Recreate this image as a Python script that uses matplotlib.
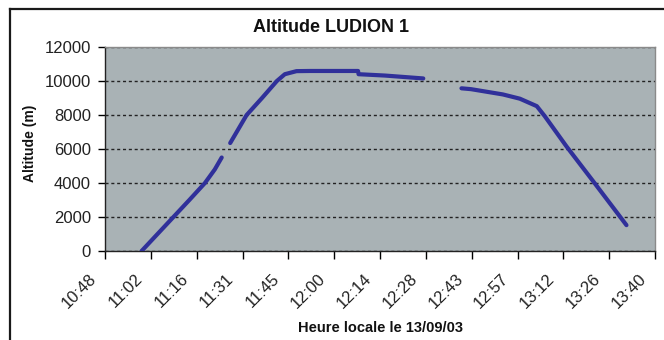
import matplotlib
matplotlib.use("Agg")
import matplotlib.pyplot as plt
import matplotlib.transforms as mtransforms
from matplotlib.lines import Line2D
import numpy as np

plt.rcParams["font.family"] = ["Liberation Sans", "DejaVu Sans"]

# flight log of the balloon (local time, altitude in m); None marks a data gap
heure = [
    "10:59:30", "11:04:30", "11:09:30", "11:14:30", "11:19:24", "11:22:30",
    "11:24:40",
    None,
    "11:27:20", "11:32:30", "11:37:20", "11:42:00", "11:44:30", "11:48:10",
    "11:52:25", "12:07:30", "12:07:40", "12:16:00", "12:28:00",
    None,
    "12:40:00", "12:43:00", "12:53:00", "12:58:20", "13:03:40", "13:06:10",
    "13:13:00", "13:21:50", "13:31:50",
]
altitude = [
    0, 1000, 2000, 3000, 4000, 4800,
    5500,
    None,
    6350, 8000, 9000, 10000, 10400, 10580,
    10590, 10590, 10400, 10320, 10150,
    None,
    9570, 9520, 9210, 8960, 8520, 7930,
    6150, 3990, 1520,
]

tick_labels = ["10:48", "11:02", "11:16", "11:31", "11:45", "12:00", "12:14",
               "12:28", "12:43", "12:57", "13:12", "13:26", "13:40"]
# Excel style axis: ticks every 0.01 day starting at 0.45 day
tick_days = [0.45 + 0.01 * i for i in range(len(tick_labels))]


def to_minutes(s):
    if s is None:
        return np.nan
    h, m, sec = (int(v) for v in s.split(":"))
    return h * 60 + m + sec / 60.0


x = np.array([to_minutes(s) for s in heure])
y = np.array([np.nan if v is None else v for v in altitude], dtype=float)
xticks = [d * 1440 for d in tick_days]

fig = plt.figure(figsize=(6.64, 3.40), dpi=100)
fig.patch.set_facecolor("white")

ax = fig.add_axes([105 / 664, 1 - 251 / 340, 550 / 664, 204 / 340])
ax.set_facecolor("#a9b2b5")

ax.plot(x, y, color="#30309a", lw=3.0, solid_capstyle="round",
        solid_joinstyle="round", zorder=3)

ax.set_xlim(xticks[0], xticks[-1])
ax.set_ylim(0, 12000)
ax.set_yticks(range(0, 12001, 2000))
ax.set_xticks(xticks)
ax.set_xticklabels(tick_labels, rotation=45, ha="right", va="center",
                   rotation_mode="anchor", fontsize=12)
ax.tick_params(axis="y", labelsize=12, length=5, width=1, direction="out",
               pad=5, labelcolor="#222222")
ax.tick_params(axis="x", length=5.5, width=1, direction="out", pad=13,
               labelcolor="#222222")

# shift the rotated time labels a little to the left of their ticks
shift = mtransforms.ScaledTranslation(-11 / 100, 0, fig.dpi_scale_trans)
for lab in ax.get_xticklabels():
    lab.set_transform(lab.get_transform() + shift)

ax.yaxis.grid(True, color="#222222", lw=1.0, linestyle=(0, (2.2, 2.0)), zorder=1)
ax.set_axisbelow(True)

for side in ["top", "right"]:
    ax.spines[side].set_color("#8a8a8a")
    ax.spines[side].set_linewidth(1.0)
for side in ["left", "bottom"]:
    ax.spines[side].set_color("#222222")
    ax.spines[side].set_linewidth(1.0)

fig.text(30 / 664, 1 - 143 / 340, "Altitude (m)", rotation=90, ha="center",
         va="center", fontsize=10, fontweight="bold", color="#111111")
fig.text(380 / 664, 1 - 328 / 340, "Heure locale le 13/09/03", ha="center",
         va="center", fontsize=10.5, fontweight="bold", color="#111111")
fig.text(331 / 664, 1 - 28 / 340, "Altitude LUDION 1", ha="center", va="center",
         fontsize=13, fontweight="bold", color="#111111")

# chart frame (open on the right and bottom)
x0, y0 = 10 / 664, 1 - 9 / 340
fig.add_artist(Line2D([x0, 1], [y0, y0], color="#1a1a1a", lw=1.6,
                      transform=fig.transFigure))
fig.add_artist(Line2D([x0, x0], [0, y0], color="#1a1a1a", lw=1.6,
                      transform=fig.transFigure))

fig.savefig("out.png", dpi=100)
